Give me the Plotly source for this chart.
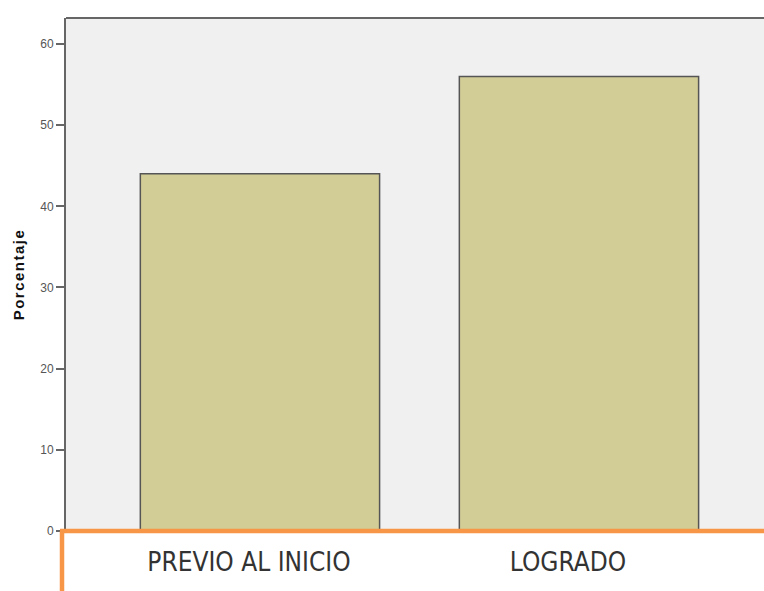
import plotly.graph_objects as go

categories = ["PREVIO AL INICIO", "LOGRADO"]
values = [44, 56]
y_ticks = [0, 10, 20, 30, 40, 50, 60]

W, H = 764, 591
L, T = 66, 18
plot_bottom = 531
B = H - plot_bottom
R = 0
pw = W - L - R
ph = H - T - B

fig = go.Figure(go.Bar(
    x=categories, y=values, width=0.75,
    marker=dict(color="#D2CD96", line=dict(color="#555555", width=1.5)),
    hoverinfo="skip",
))

fig.update_layout(
    width=W, height=H,
    margin=dict(l=L, r=R, t=T, b=B, autoexpand=False),
    paper_bgcolor="white", plot_bgcolor="#F0F0F0",
    showlegend=False,
    xaxis=dict(range=[-0.608, 1.58], showline=False, ticks="",
               tickfont=dict(family="DejaVu Sans Condensed, DejaVu Sans", size=26, color="#333333"),
               ticklabelstandoff=13, ticklabelshift=-11,
               showgrid=False, zeroline=False, automargin=False),
    yaxis=dict(range=[0, 63.2], tickvals=y_ticks, ticks="outside", ticklen=8,
               tickcolor="#666666", tickwidth=1.5,
               showline=True, linecolor="#666666", linewidth=2, mirror=False,
               showgrid=False, zeroline=False, automargin=False,
               tickfont=dict(family="Liberation Sans", size=12, color="#555555"),
               title=dict(text="<b><span style='letter-spacing:1.5px'>Porcentaje</span></b>",
                          font=dict(family="Liberation Sans", size=15, color="#111111"), standoff=12)),
    shapes=[
        dict(type="line", xref="paper", yref="paper", x0=0, x1=1, y0=1, y1=1,
             line=dict(color="#666666", width=2)),
        dict(type="line", xref="paper", yref="paper", x0=(60 - L) / pw, x1=1.01,
             y0=0, y1=0, line=dict(color="#F79646", width=4.5), layer="above"),
        dict(type="line", xref="paper", yref="paper", x0=(62 - L) / pw, x1=(62 - L) / pw,
             y0=0, y1=-(B + 10) / ph, line=dict(color="#F79646", width=4.5), layer="above"),
    ],
)

fig.write_html("out.html", config={"displayModeBar": False},
               post_script="document.body.style.margin='0';document.body.style.overflow='hidden';")
